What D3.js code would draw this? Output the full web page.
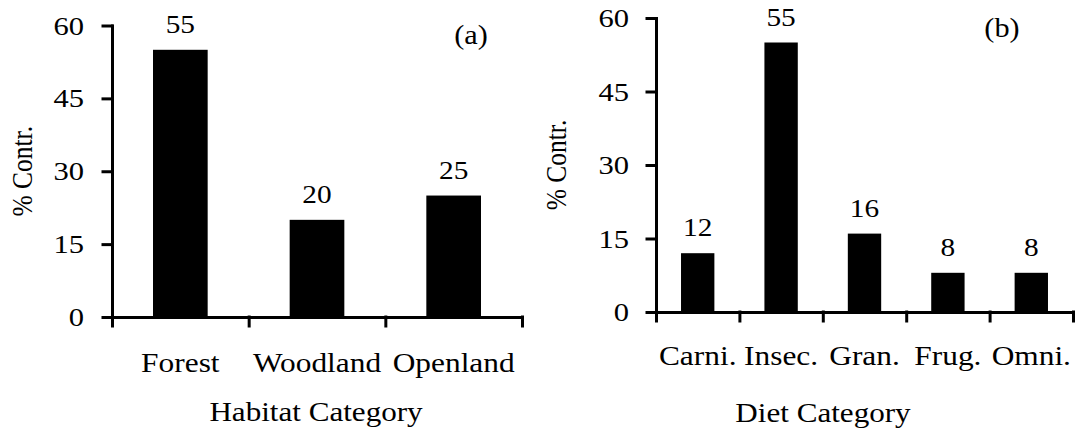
<!DOCTYPE html>
<html><head><meta charset="utf-8">
<script src="https://cdn.jsdelivr.net/npm/d3@7"></script>
<style>
body{margin:0;background:#fff}
svg text{font-family:"Liberation Serif","Tinos","Times New Roman","Nimbus Roman","Nimbus Roman No9 L","Noto Serif","DejaVu Serif Condensed",serif;fill:#000}
</style>
</head><body>
<svg id="c" width="1080" height="429"></svg>
<script>
const habitatCategories = ["Forest", "Woodland", "Openland"];
const habitatValues = [55, 20, 25];
const dietCategories = ["Carni.", "Insec.", "Gran.", "Frug.", "Omni."];
const dietValues = [12, 55, 16, 8, 8];
const yTicks = [0, 15, 30, 45, 60];
const panelLabels = ["(a)", "(b)"];
const xTitles = ["Habitat Category", "Diet Category"];
const yTitle = "% Contr.";

const svg = d3.select("#c");
svg.append("rect").attr("width", 1080).attr("height", 429).attr("fill", "#fff");

// width correction in case the Times-metric font is not available
const probe = svg.append("text").style("font-size", "100px").text("Woodland");
const probeW = probe.node().getComputedTextLength();
probe.remove();
const corr = probeW > 0 ? 416.6 / probeW : 1;

function stretchText(sel, x, y, sx) {
  sel.attr("x", 0).attr("y", 0).attr("transform", `translate(${x},${y}) scale(${sx * corr},1)`);
}

function panel(cfg) {
  const g = svg.append("g");
  const n = cfg.cats.length;
  const y = d3.scaleLinear().domain([0, 60]).range([cfg.yBot, cfg.yTop]);
  const x = d3.scaleBand().domain(cfg.cats).range([cfg.x0, cfg.x1]).paddingInner(0.6).paddingOuter(0.3);
  const xi = d3.scaleLinear().domain([0, n]).range([cfg.x0, cfg.x1]);

  g.selectAll("rect.bar").data(cfg.vals).join("rect").attr("class", "bar")
    .attr("x", (d, i) => x(cfg.cats[i])).attr("width", x.bandwidth())
    .attr("y", d => y(d)).attr("height", d => y(0) - y(d)).attr("fill", "#000");

  // y axis
  const ya = g.append("g").attr("transform", `translate(${cfg.x0},0)`)
    .call(d3.axisLeft(y).tickValues(yTicks).tickSize(9).tickSizeOuter(0));
  ya.attr("font-family", null);
  ya.selectAll("text").each(function () {
    const t = d3.select(this);
    t.attr("dy", "0.34em").style("font-size", "25px").attr("text-anchor", "end");
    stretchText(t, -cfg.tickLabelOff, 0, 1.2);
  });

  // x axis with boundary ticks
  const xa = g.append("g").attr("transform", `translate(0,${cfg.yBot})`)
    .call(d3.axisBottom(xi).tickValues(d3.range(n + 1)).tickSize(9).tickSizeOuter(0).tickFormat(""));

  [ya, xa].forEach(a => {
    a.selectAll("path,line").attr("stroke", "#000").attr("stroke-width", 3).attr("stroke-linecap", "square");
  });

  // category labels
  g.selectAll("text.cat").data(cfg.cats).join("text").attr("class", "cat")
    .attr("text-anchor", "middle").style("font-size", "27px").text(d => d)
    .each(function (d) { stretchText(d3.select(this), x(d) + x.bandwidth() / 2, cfg.catY, 1.14); });

  // value labels
  g.selectAll("text.val").data(cfg.vals).join("text").attr("class", "val")
    .attr("text-anchor", "middle").style("font-size", "25px").text(d => d)
    .each(function (d, i) { stretchText(d3.select(this), x(cfg.cats[i]) + x.bandwidth() / 2, y(d) - 17, 1.15); });

  // x title
  g.append("text").attr("text-anchor", "middle").style("font-size", "27px").text(cfg.title)
    .call(s => stretchText(s, cfg.titleX, cfg.titleY, 1.13));

  // y title
  g.append("text").attr("text-anchor", "middle").style("font-size", "25px").text(yTitle)
    .attr("dy", "0.35em")
    .attr("transform", `translate(${cfg.yTitleX},${(y(0) + y(60)) / 2}) scale(1.2,${corr}) rotate(-90)`);

  // panel label
  g.append("text").attr("text-anchor", "middle").style("font-size", "27px").text(cfg.label)
    .call(s => stretchText(s, cfg.labelX, cfg.labelY, 1.1));
}

panel({
  cats: habitatCategories, vals: habitatValues,
  x0: 112, x1: 522, yTop: 25.5, yBot: 317,
  tickLabelOff: 28, catY: 372, title: xTitles[0], titleX: 316, titleY: 421,
  yTitleX: 21, label: panelLabels[0], labelX: 471, labelY: 44
});
panel({
  cats: dietCategories, vals: dietValues,
  x0: 656, x1: 1073, yTop: 18, yBot: 312,
  tickLabelOff: 27, catY: 365, title: xTitles[1], titleX: 823, titleY: 422,
  yTitleX: 555, label: panelLabels[1], labelX: 1002, labelY: 37
});
</script>
</body></html>
